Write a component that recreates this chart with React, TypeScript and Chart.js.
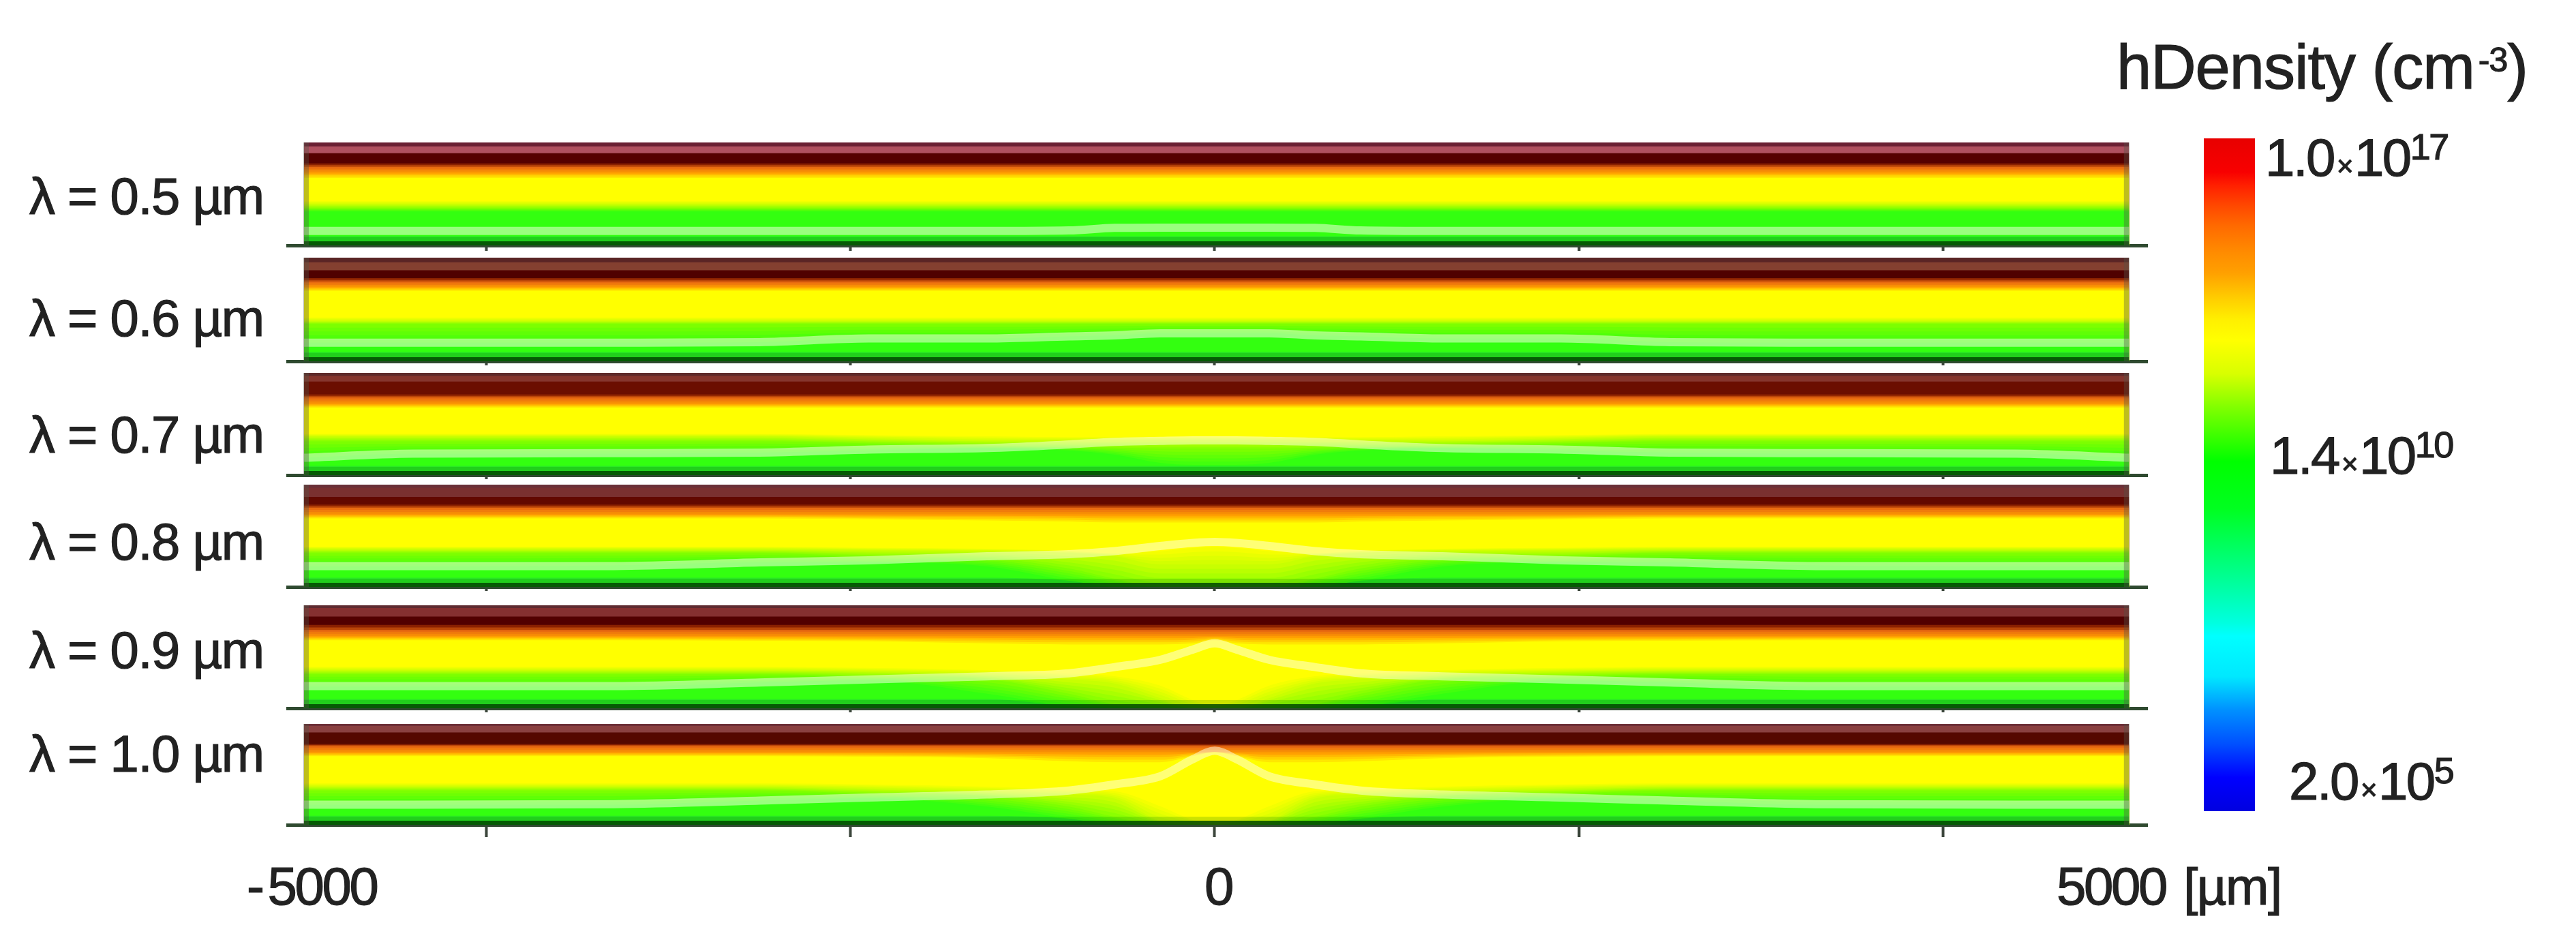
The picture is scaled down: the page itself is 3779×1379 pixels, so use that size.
import React, { useEffect, useRef } from "react";
import { Chart, registerables } from "chart.js";

Chart.register(...registerables);

// ---------- data ----------
const wavelengths = ["0.5", "0.6", "0.7", "0.8", "0.9", "1.0"];
const xTicks = [-4000, -2000, 0, 2000, 4000];
// half profile, mirrored about x = 0; heights are % of the panel height
const halfX = [-5000, -4400, -3300, -2500, -1900, -1250, -800, -550, -300, -120, 0];

const contourLine = [
  [14, 14, 14, 14, 14, 14, 14.5, 17, 17.3, 17.3, 17.3],
  [18, 18, 18, 18.5, 22, 22, 24, 25, 27, 27, 27],
  [17, 21, 21.5, 22, 25, 26.5, 30, 32.5, 33.5, 34, 34],
  [20.4, 20.4, 20.4, 24, 26, 30, 32, 35, 40, 43, 44],
  [21.6, 21.6, 21.6, 25, 28, 31, 34, 40, 47, 57, 63],
  [20, 20, 20.5, 24, 27, 30, 34, 40, 48, 65, 73.5],
];
const yellowTop = [
  [65.5, 65.5, 65.5, 65.5, 65.5, 65.5, 65.5, 65.5, 65.5, 65.5, 65.5],
  [68, 68, 68, 68, 68, 68, 68, 68, 68, 68, 68],
  [66, 66, 66, 66, 66, 66, 66, 66, 66, 66, 66],
  [67, 67, 67, 67, 66, 65, 64, 63, 63, 63, 63],
  [66, 66, 66, 65.5, 65, 63, 62, 62, 62, 63, 66],
  [68, 68, 68, 68, 67.5, 66, 63, 62, 62, 68, 72],
];
const yellowEnd = [
  [44, 44, 44, 44, 44, 44, 44, 44, 44, 44, 44],
  [43, 43, 43, 43, 43, 43, 43, 43, 43, 43, 43],
  [41, 41, 41, 41, 40, 39, 38, 38, 38, 38, 38],
  [40, 40, 40, 40, 39, 38, 36, 34, 38, 42, 43],
  [41, 41, 41, 41, 40, 38, 35, 33, 25, 10, 3],
  [42, 42, 42, 42, 41, 39, 36, 35, 22, 6, 0],
];
const limeHigh = [
  [40, 40, 40, 40, 40, 40, 40, 40, 40, 40, 40],
  [39, 39, 39, 39, 39, 39, 39, 39, 39, 39, 39],
  [38, 38, 38, 38, 36, 34, 34, 34, 34, 34, 34],
  [37, 37, 37, 37, 36, 35, 33, 30, 22, 22, 22],
  [37, 37, 37, 37, 36, 33, 28, 24, 10, 0, 0],
  [38, 38, 38, 38, 36, 33, 30, 26, 4, 0, 0],
];
const limeLow = [
  [36, 36, 36, 36, 36, 36, 36, 36, 36, 36, 36],
  [36, 36, 36, 36, 36, 36, 36, 36, 36, 36, 36],
  [33, 33, 33, 33, 31, 29, 28, 27, 26, 26, 26],
  [33, 33, 33, 33, 30, 28, 18, 8, 0, 0, 0],
  [33, 33, 33, 33, 31, 28, 14, 4, 0, 0, 0],
  [34, 34, 34, 34, 31, 28, 18, 8, 0, 0, 0],
];
const greenTop = [
  [33, 33, 33, 33, 33, 33, 33, 33, 33, 33, 33],
  [18, 18, 18, 18.5, 22, 22, 24, 25, 27, 27, 27],
  [17, 21, 21, 22, 24, 26, 24, 20, 12, 10, 10],
  [20, 20, 21, 24, 24, 20, 6, 0, 0, 0, 0],
  [21, 21, 21, 25, 27, 14, 2, 0, 0, 0, 0],
  [20, 20, 20, 24, 26, 18, 6, 0, 0, 0, 0],
];
// flat band edges: light maroon, dark red, brown, orange, amber
const bandEdges = [
  [96.2, 89.6, 79.6, 76.3, 71],
  [95.6, 87.9, 80.2, 76.9, 72],
  [97, 91.5, 79, 76, 70],
  [97, 88, 80.5, 77.5, 71],
  [97.3, 89, 81, 76, 70],
  [98, 91.6, 80, 78, 72],
];
const panelMaroons = [
  ["#6a2033", "#b0505f", "#560000"],
  ["#5a2525", "#844030", "#4f0000"],
  ["#5e2a2a", "#85352d", "#6b0e00"],
  ["#6a3038", "#7a3030", "#620800"],
  ["#5e2a30", "#853030", "#520000"],
  ["#6e3038", "#8a4040", "#550800"],
];

const colorbarRange = [2e5, 1e17];
const colorbarStops: [number, string][] = [
  [0, "#e80000"], [0.05, "#f80000"], [0.07, "#ff2000"], [0.1, "#ff4800"], [0.13, "#ff6a00"],
  [0.17, "#ff8c00"], [0.2, "#ffa000"], [0.24, "#ffd000"], [0.27, "#fff000"], [0.3, "#ffff00"],
  [0.35, "#d8ff00"], [0.4, "#80ff00"], [0.48, "#00ff00"], [0.55, "#00ff20"], [0.65, "#00ff90"],
  [0.72, "#00ffe0"], [0.74, "#00ffff"], [0.8, "#00e8ff"], [0.85, "#0090ff"], [0.9, "#0050ff"],
  [0.95, "#0000ff"], [1, "#0000e0"],
];
const colorbarLabels = [
  { mantissa: "1.0", exponent: "17", left: 3323, baseline: 258 },
  { mantissa: "1.4", exponent: "10", left: 3330, baseline: 695 },
  { mantissa: "2.0", exponent: "5", left: 3358, baseline: 1173 },
];

// ---------- layout ----------
const panelTops = [209, 378, 547, 711, 888, 1062];
const panelBottoms = [360, 530, 697, 861, 1039, 1210];
const tickLengths = [8, 6, 6, 6, 6, 18];
const labelBaselines = [314, 493, 664, 821, 980, 1132];

const rightHalfX = [120, 300, 550, 800, 1250, 1900, 2500, 3300, 4400, 5020];
const xKnots = [...halfX, ...rightHalfX];
const mirror = (a: number[]) => [...a, ...a.slice(0, -1).reverse()];
const flat = (v: number) => xKnots.map(() => v);

const hexRgb = (h: string) => [1, 3, 5].map((i) => parseInt(h.slice(i, i + 2), 16));
const mix = (a: string, b: string, t: number) => {
  const A = hexRgb(a), B = hexRgb(b);
  return `rgb(${A.map((v, i) => Math.round(v + (B[i] - v) * t)).join(",")})`;
};

type Level = { y: number[]; color: string; steps: number };

function panelDatasets(p: number) {
  const [light, dark, brown, orange, amber] = bandEdges[p];
  const [c0, c1, c2] = panelMaroons[p];
  const green = mirror(greenTop[p]);
  const levels: Level[] = [
    { y: flat(100), color: c0, steps: 0 },
    { y: flat(light), color: c1, steps: 0 },
    { y: flat(dark), color: c2, steps: 0 },
    { y: flat(brown), color: "#8a2000", steps: 0 },
    { y: flat(orange), color: "#e86a10", steps: 2 },
    { y: flat(amber), color: "#ffa000", steps: 3 },
    { y: mirror(yellowTop[p]), color: "#ffff00", steps: 4 },
    { y: mirror(yellowEnd[p]), color: "#ffff00", steps: 0 },
    { y: mirror(limeHigh[p]), color: "#c8ff00", steps: 5 },
    { y: mirror(limeLow[p]), color: "#7cff00", steps: 5 },
    { y: green, color: "#33ff10", steps: 5 },
    { y: green.map((v) => Math.min(v, 9)), color: "#2ae824", steps: 0 },
  ];
  const series: { y: number[]; color: string }[] = [];
  levels.forEach((lvl, i) => {
    const prev = levels[i - 1];
    for (let k = 1; k < lvl.steps; k++) {
      const t = k / lvl.steps;
      series.push({ y: lvl.y.map((v, j) => prev.y[j] + (v - prev.y[j]) * t), color: mix(prev.color, lvl.color, t) });
    }
    series.push({ y: lvl.y, color: lvl.color });
  });
  const total = series.length + 6;
  const fills: any[] = series.map((s, i) => ({
    data: xKnots.map((x, j) => ({ x, y: s.y[j] })),
    backgroundColor: s.color,
    borderWidth: 0,
    pointRadius: 0,
    cubicInterpolationMode: "monotone",
    fill: { value: 0 },
    order: total - i,
  }));
  const overlay = (y: number[], bg: string, order: number) => ({
    data: xKnots.map((x, j) => ({ x, y: y[j] })),
    backgroundColor: bg,
    borderWidth: 0,
    pointRadius: 0,
    fill: { value: 0 },
    order,
  });
  const edge = (x: number, order: number) => ({
    data: [{ x, y: 0 }, { x, y: 100 }],
    borderColor: "rgba(85,85,70,0.38)",
    borderWidth: 8,
    pointRadius: 0,
    fill: false,
    order,
  });
  const line = mirror(contourLine[p]);
  return [
    ...fills,
    overlay(flat(8), "rgba(0,110,0,0.2)", 5),
    overlay(flat(4), "rgba(0,70,0,0.85)", 4),
    {
      data: xKnots.map((x, j) => ({ x, y: line[j] })),
      borderColor: "rgba(255,255,235,0.5)",
      borderWidth: 12,
      pointRadius: 0,
      cubicInterpolationMode: "monotone",
      fill: false,
      order: 3,
    },
    edge(-4989, 2),
    edge(5007, 1),
  ];
}

function Panel({ index }: { index: number }) {
  const ref = useRef<HTMLCanvasElement>(null);
  useEffect(() => {
    const chart = new Chart(ref.current!, {
      type: "line",
      data: { datasets: panelDatasets(index) },
      options: {
        animation: false,
        responsive: false,
        events: [],
        layout: { padding: { left: 422, right: 629, top: 2, bottom: 0 } },
        plugins: { legend: { display: false }, tooltip: { enabled: false }, title: { display: false } },
        scales: {
          x: {
            type: "linear",
            min: -5090,
            max: 5120,
            afterBuildTicks: (s: any) => { s.ticks = xTicks.map((value) => ({ value })); },
            afterFit: (s: any) => { s.height = 30; },
            ticks: { display: false },
            border: { color: "#2f4a30", width: 5 },
            grid: { drawOnChartArea: false, tickLength: tickLengths[index], tickColor: "#3c463c", tickWidth: 4 },
          },
          y: { type: "linear", min: 0, max: 100, display: false },
        },
      } as any,
    });
    return () => chart.destroy();
  }, [index]);
  const h = panelBottoms[index] - panelTops[index] + 32;
  return (
    <canvas
      ref={ref}
      width={3779}
      height={h}
      style={{ position: "absolute", left: 0, top: panelTops[index] - 2, width: 3779, height: h }}
    />
  );
}

function Colorbar() {
  const ref = useRef<HTMLCanvasElement>(null);
  useEffect(() => {
    const chart = new Chart(ref.current!, {
      type: "bar",
      data: {
        labels: ["hDensity"],
        datasets: [
          {
            data: [colorbarRange as any],
            barPercentage: 1,
            categoryPercentage: 1,
            backgroundColor: (ctx: any) => {
              const area = ctx.chart.chartArea;
              if (!area) return "#00ff00";
              const g = ctx.chart.ctx.createLinearGradient(0, area.top, 0, area.bottom);
              colorbarStops.forEach(([o, c]) => g.addColorStop(o, c));
              return g;
            },
          },
        ],
      },
      options: {
        animation: false,
        responsive: false,
        events: [],
        layout: { padding: 0 },
        plugins: { legend: { display: false }, tooltip: { enabled: false } },
        scales: {
          x: { display: false },
          y: { type: "logarithmic", min: colorbarRange[0], max: colorbarRange[1], display: false },
        },
      } as any,
    });
    return () => chart.destroy();
  }, []);
  return (
    <canvas ref={ref} width={75} height={987} style={{ position: "absolute", left: 3233, top: 203, width: 75, height: 987 }} />
  );
}

const FONT = '"Liberation Sans", Arial, sans-serif';
function Text({ left, baseline, size, spacing = -2.5, children }: any) {
  return (
    <div
      style={{
        position: "absolute",
        left,
        top: baseline - 0.8465 * size,
        fontFamily: FONT,
        fontSize: size,
        lineHeight: 1,
        letterSpacing: spacing,
        color: "#222",
        whiteSpace: "nowrap",
        WebkitTextStroke: "1.2px #222",
      }}
    >
      {children}
    </div>
  );
}
const Raised = ({ by, size, children }: any) => (
  <span style={{ position: "relative", top: -by, fontSize: size, lineHeight: 0 }}>{children}</span>
);

export default function App() {
  return (
    <div style={{ position: "absolute", left: 0, top: 0, width: 3779, height: 1379, background: "#fff", overflow: "hidden" }}>
      {wavelengths.map((w, i) => (
        <Panel key={w} index={i} />
      ))}
      {wavelengths.map((w, i) => (
        <Text key={w} left={43} baseline={labelBaselines[i]} size={76} spacing={-1.5}>
          {`λ = ${w} µm`}
        </Text>
      ))}
      <Colorbar />
      <Text left={3105} baseline={130} size={92} spacing={-1}>
        hDensity (cm<span style={{ marginLeft: 6 }} /><Raised by={25} size={50}>-3</Raised>)
      </Text>
      {colorbarLabels.map((l) => (
        <Text key={l.mantissa} left={l.left} baseline={l.baseline} size={78} spacing={-2.5}>
          {l.mantissa}
          <span style={{ fontSize: 42, margin: "0 4px" }}>×</span>
          10
          <Raised by={24} size={54}>{l.exponent}</Raised>
        </Text>
      ))}
      <Text left={362} baseline={1327} size={78} spacing={-3.4}>
        <span style={{ marginRight: 8 }}>-</span>5000
      </Text>
      <Text left={1767} baseline={1327} size={78} spacing={-3.4}>0</Text>
      <Text left={3017} baseline={1327} size={78} spacing={-3.4}>
        5000 <span style={{ fontSize: 76, letterSpacing: -1.5, marginLeft: 8 }}>[µm]</span>
      </Text>
    </div>
  );
}
